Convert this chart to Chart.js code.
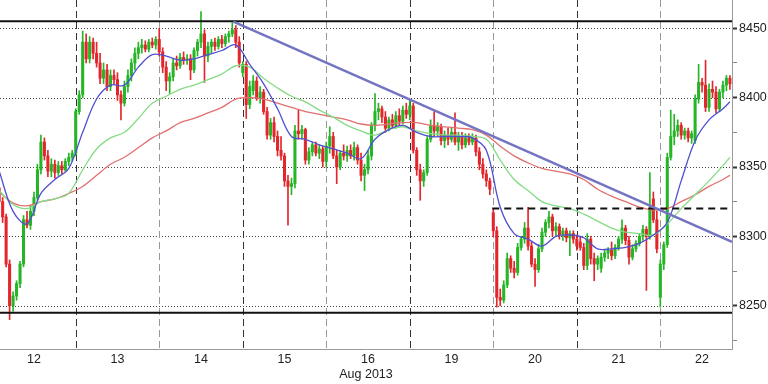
<!DOCTYPE html>
<html><head><meta charset="utf-8">
<script src="https://cdn.jsdelivr.net/npm/chart.js@4.4.1/dist/chart.umd.min.js"></script>
<style>html,body{margin:0;padding:0;background:#fff;overflow:hidden}#wrap{width:768px;height:384px;position:relative}</style>
</head><body><div id="wrap"><canvas id="c" width="768" height="384"></canvas></div>
<script>
// ---- categories / ticks ----
const dayLabels  = ['12','13','14','15','16','19','20','21','22'];
const dayCenters = [12,36,60,84,108,132,156,180,204];   // hour positions of day labels
const dayBounds  = [24,48,72,96,120,144,168,192];        // hour positions of day separators
const yTicks = [8225,8250,8275,8300,8325,8350,8375,8400,8425,8450];
const yMajor = [8250,8300,8350,8400,8450];
const axisTitle = 'Aug 2013';
const firstHour = 2;  // hour index of the first candle

// ---- hourly OHLC ----
const opens = [
8335,8325,8314,8280,8250,8257,8266,8280,8312,8308,
8318,8328,8348,8368,8358,8347,8352,8346,8351,8348,
8354,8357,8360,8390,8402,8440,8428,8440,8432,8425,
8414,8420,8408,8416,8413,8402,8396,8408,8416,8425,
8432,8436,8438,8435,8440,8438,8442,8433,8422,8412,
8415,8425,8423,8429,8427,8428,8420,8434,8440,8446,
8430,8437,8440,8437,8442,8439,8444,8446,8449,8440,
8418,8424,8395,8405,8412,8400,8404,8390,8373,8382,
8372,8362,8358,8340,8336,8338,8376,8374,8377,8355,
8361,8366,8360,8363,8354,8365,8372,8358,8350,8360,
8358,8362,8358,8364,8355,8344,8348,8358,8380,8390,
8392,8386,8378,8384,8380,8387,8383,8391,8388,8394,
8362,8348,8340,8346,8370,8380,8376,8379,8369,8373,
8370,8375,8368,8372,8366,8371,8368,8371,8361,8352,
8345,8340,8317,8304,8256,8254,8265,8284,8277,8274,
8292,8298,8306,8293,8280,8276,8291,8303,8310,8314,
8304,8307,8301,8304,8299,8302,8298,8296,8292,8279,
8298,8284,8280,8277,8285,8288,8290,8286,8292,8298,
8306,8297,8285,8291,8295,8300,8305,8300,8327,8312,
8256,8280,8294,8357,8372,8376,8380,8373,8376,8371,
8369,8399,8411,8409,8393,8406,8404,8392,8404,8409,
8414];
const highs = [
8338,8328,8316,8283,8260,8268,8282,8315,8318,8322,
8332,8352,8373,8371,8362,8356,8355,8354,8354,8356,
8360,8362,8392,8405,8448,8446,8444,8443,8440,8432,
8425,8424,8420,8420,8418,8405,8412,8420,8428,8436,
8440,8442,8441,8442,8443,8444,8450,8436,8426,8418,
8428,8430,8432,8433,8431,8431,8436,8442,8462,8449,
8440,8442,8443,8444,8445,8446,8448,8454,8452,8444,
8426,8426,8412,8416,8415,8408,8406,8393,8385,8386,
8376,8372,8360,8344,8342,8380,8391,8380,8378,8364,
8368,8368,8366,8365,8368,8379,8375,8362,8362,8366,
8365,8366,8368,8366,8360,8352,8362,8382,8403,8396,
8394,8390,8386,8388,8390,8392,8394,8396,8398,8396,
8364,8352,8348,8372,8384,8390,8382,8381,8376,8378,
8378,8389,8375,8375,8374,8374,8374,8373,8364,8356,
8348,8342,8320,8307,8262,8268,8288,8286,8282,8295,
8300,8310,8321,8296,8284,8294,8306,8312,8318,8316,
8310,8309,8306,8306,8304,8304,8301,8300,8295,8302,
8300,8288,8286,8288,8290,8292,8296,8294,8300,8312,
8308,8300,8294,8297,8302,8308,8307,8346,8332,8318,
8283,8296,8360,8391,8388,8384,8382,8378,8378,8376,
8402,8424,8414,8427,8410,8412,8408,8406,8412,8416,
8416];
const lows = [
8322,8310,8278,8240,8246,8254,8263,8278,8306,8305,
8315,8326,8345,8355,8343,8343,8342,8344,8345,8347,
8351,8354,8358,8388,8400,8425,8425,8428,8422,8410,
8410,8405,8405,8410,8398,8384,8394,8404,8412,8420,
8428,8432,8433,8433,8436,8435,8430,8418,8405,8403,
8412,8420,8421,8424,8424,8413,8418,8430,8436,8411,
8426,8432,8434,8435,8436,8437,8440,8444,8436,8422,
8415,8385,8392,8402,8398,8396,8388,8370,8370,8368,
8358,8355,8336,8308,8330,8335,8370,8370,8352,8352,
8358,8358,8356,8350,8350,8360,8356,8338,8348,8355,
8354,8356,8355,8352,8340,8333,8345,8355,8376,8384,
8382,8375,8376,8378,8378,8380,8381,8385,8384,8360,
8344,8326,8336,8344,8368,8372,8372,8366,8364,8366,
8368,8366,8362,8363,8364,8366,8366,8358,8348,8342,
8336,8330,8300,8249,8250,8252,8263,8274,8270,8272,
8290,8295,8290,8278,8264,8274,8289,8300,8306,8300,
8300,8298,8297,8296,8286,8295,8290,8290,8276,8276,
8280,8268,8276,8274,8282,8284,8283,8284,8290,8295,
8294,8280,8283,8289,8293,8297,8261,8298,8310,8288,
8249,8276,8292,8355,8366,8372,8370,8370,8368,8367,
8367,8396,8404,8390,8390,8400,8389,8390,8400,8405,
8406];
const closes = [
8325,8314,8280,8250,8257,8266,8280,8312,8308,8318,
8328,8348,8368,8358,8347,8352,8346,8351,8348,8354,
8357,8360,8390,8402,8440,8428,8440,8432,8425,8414,
8420,8408,8416,8413,8402,8396,8408,8416,8425,8432,
8436,8438,8435,8440,8438,8442,8433,8422,8412,8415,
8425,8423,8429,8427,8428,8420,8434,8440,8446,8430,
8437,8440,8437,8442,8439,8444,8446,8449,8440,8425,
8424,8395,8408,8412,8400,8404,8390,8373,8382,8372,
8362,8358,8340,8336,8338,8376,8374,8377,8355,8361,
8366,8360,8363,8354,8365,8372,8358,8350,8360,8358,
8362,8358,8364,8355,8344,8348,8358,8380,8390,8392,
8386,8378,8384,8380,8387,8383,8391,8388,8394,8362,
8348,8340,8346,8370,8380,8376,8379,8369,8373,8370,
8375,8368,8372,8366,8371,8368,8371,8361,8352,8345,
8340,8334,8304,8256,8254,8265,8284,8277,8274,8292,
8298,8306,8293,8280,8276,8291,8303,8310,8314,8304,
8307,8301,8304,8299,8302,8298,8293,8292,8279,8298,
8284,8280,8284,8285,8288,8290,8286,8292,8298,8306,
8297,8285,8291,8295,8300,8305,8300,8320,8312,8291,
8280,8294,8357,8372,8376,8380,8373,8376,8371,8374,
8399,8411,8409,8393,8406,8404,8392,8404,8409,8414,
8410];

// ---- moving averages, read every 4 hours ----
const maHours = [2,6,10,14,18,22,26,30,34,38,42,46,50,54,58,62,66,70,74,78,82,86,90,94,98,102,106,110,114,118,122,126,130,134,138,142,146,150,154,158,162,166,170,174,178,182,186,190,194,198,202,206,210,212];
const maFast = [8347,8318,8309,8331,8341,8349,8375,8399,8409,8409,8422,8431,8430,8427,8428,8431,8434,8438,8424,8410,8392,8372,8370,8366,8363,8360,8356,8370,8377,8380,8375,8372,8372,8372,8371,8362,8321,8302,8298,8293,8300,8301,8299,8291,8291,8292,8295,8301,8310,8340,8369,8384,8392,8397];
const maMid  = [8333,8323,8320,8325,8327,8331,8348,8363,8371,8375,8385,8396,8401,8406,8409,8413,8417,8423,8422,8414,8407,8401,8397,8391,8386,8380,8376,8373,8377,8379,8376,8374,8373,8373,8372,8370,8355,8341,8333,8325,8322,8320,8316,8311,8306,8303,8302,8301,8309,8320,8330,8340,8351,8357];
const maSlow = [8332,8324,8322,8325,8327,8331,8336,8344,8352,8357,8364,8371,8376,8382,8385,8389,8393,8399,8400,8399,8396,8393,8390,8388,8386,8384,8381,8380,8381,8382,8382,8380,8379,8378,8377,8373,8365,8358,8353,8349,8347,8345,8341,8334,8329,8325,8321,8319,8320,8325,8330,8336,8341,8344];

// ---- levels ----
const resistance = 8455;
const support = 8245;
const pivotLevel = 8320;
const pivotFromHour = 143.7;
const trendFrom = {x: 69.3, y: 8454.8};
const trendTo   = {x: 212.6, y: 8296};
const xMin = 2.24, xMax = 212.6, yMin = 8218.8, yMax = 8470.4;

const GREEN = '#26b526', RED = '#e3262b';
const FONT = {family: 'Liberation Sans', size: 12.5};
const hoursOf = opens.map((_, i) => firstHour + i);
const isUp = i => closes[i] >= opens[i];
const candleColor = ctx => isUp(ctx.dataIndex) ? GREEN : RED;

const gridPlugin = {
  id: 'customGrid',
  beforeDatasetsDraw(chart) {
    const {ctx, chartArea: a, scales: {x, y}} = chart;
    ctx.save();
    ctx.lineWidth = 1;
    ctx.strokeStyle = '#444';
    ctx.setLineDash([1, 2]);
    yMajor.forEach(v => {
      const py = Math.round(y.getPixelForValue(v)) + 0.5;
      ctx.beginPath(); ctx.moveTo(a.left, py); ctx.lineTo(a.right, py); ctx.stroke();
    });
    ctx.setLineDash([7, 4]);
    dayBounds.forEach((v, i) => {
      const px = Math.round(x.getPixelForValue(v)) + 0.5;
      ctx.strokeStyle = i % 2 === 0 ? '#333' : '#999';
      ctx.beginPath(); ctx.moveTo(px, a.top); ctx.lineTo(px, a.bottom); ctx.stroke();
    });
    ctx.restore();
  }
};

const lineDs = (data, color, width, order, extra) => Object.assign({
  type: 'line', data, borderColor: color, borderWidth: width, pointRadius: 0,
  fill: false, order
}, extra || {});

new Chart(document.getElementById('c'), {
  type: 'bar',
  data: {
    datasets: [
      {type: 'bar', label: 'wicks', data: hoursOf.map((h, i) => ({x: h, y: [lows[i], highs[i]]})),
       backgroundColor: candleColor, barThickness: 1, grouped: false, order: 10},
      {type: 'bar', label: 'bodies', data: hoursOf.map((h, i) => ({x: h, y: [opens[i], closes[i]]})),
       backgroundColor: candleColor, barThickness: 2.4, minBarLength: 1, grouped: false, order: 9},
      lineDs(maHours.map((h, i) => ({x: h, y: maSlow[i]})), '#e07070', 1.3, 7, {tension: 0.35}),
      lineDs(maHours.map((h, i) => ({x: h, y: maMid[i]})), '#84dc84', 1.3, 6, {tension: 0.35}),
      lineDs(maHours.map((h, i) => ({x: h, y: maFast[i]})), '#4f4fd2', 1.3, 5, {tension: 0.35}),
      lineDs([{x: xMin, y: resistance}, {x: xMax, y: resistance}], '#111', 2, 2),
      lineDs([{x: xMin, y: support}, {x: xMax, y: support}], '#111', 2, 2),
      lineDs([{x: pivotFromHour, y: pivotLevel}, {x: xMax, y: pivotLevel}], '#111', 2, 1, {borderDash: [7, 5]}),
      lineDs([trendFrom, trendTo], '#7474c2', 2.5, 0)
    ]
  },
  options: {
    responsive: false, animation: false,
    layout: {padding: 0},
    plugins: {legend: {display: false}, tooltip: {enabled: false}},
    scales: {
      x: {
        type: 'linear', position: 'bottom', min: xMin, max: xMax, offset: false,
        afterBuildTicks: s => { s.ticks = dayCenters.map(v => ({value: v})); },
        ticks: {autoSkip: false, maxRotation: 0, padding: 3, color: '#222', font: FONT,
                callback: v => dayLabels[dayCenters.indexOf(v)]},
        grid: {drawOnChartArea: false, drawTicks: false},
        border: {display: true, color: '#999', width: 1},
        title: {display: true, text: axisTitle, color: '#222', font: FONT, padding: {top: 0, bottom: 2}},
        afterFit: s => { s.height = 35; s.paddingLeft = 0; s.paddingRight = 0; }
      },
      y: {
        type: 'linear', position: 'right', min: yMin, max: yMax,
        afterBuildTicks: s => { s.ticks = yTicks.map(v => ({value: v})); },
        ticks: {autoSkip: false, padding: 2, color: '#222', font: FONT,
                callback: v => yMajor.includes(v) ? String(v) : ''},
        grid: {drawOnChartArea: false, drawTicks: true, tickLength: 5,
               tickColor: c => (c.tick && yMajor.includes(c.tick.value)) ? '#333' : '#888',
               tickWidth: c => (c.tick && yMajor.includes(c.tick.value)) ? 2 : 1},
        border: {display: true, color: '#999', width: 1},
        afterFit: s => { s.width = 36; s.paddingTop = 0; s.paddingBottom = 0; }
      }
    }
  },
  plugins: [gridPlugin]
});
</script>
</body></html>
